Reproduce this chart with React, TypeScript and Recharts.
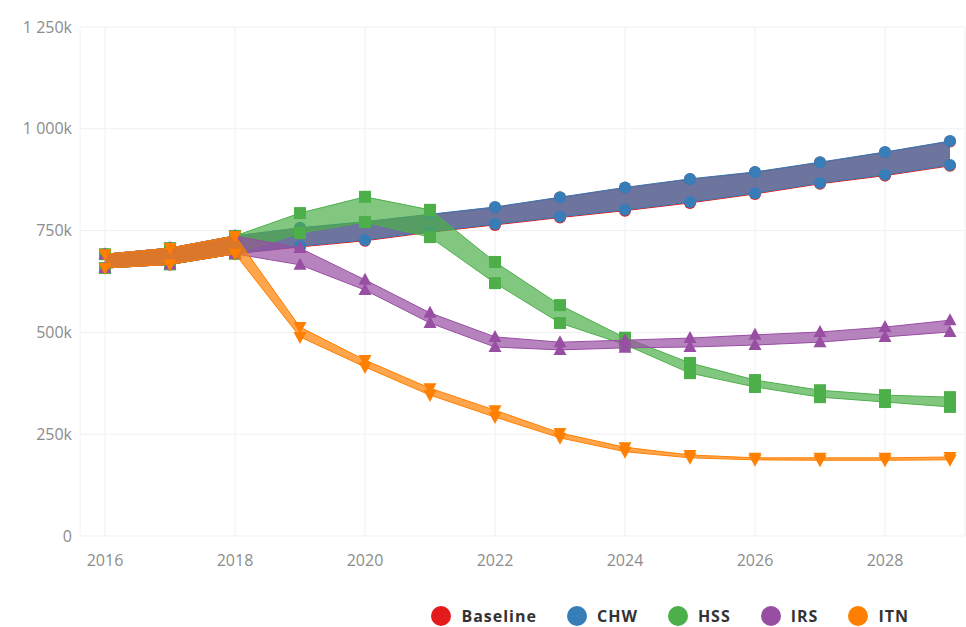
import React from 'react';
import { ComposedChart, Area, XAxis, YAxis, CartesianGrid, Legend } from 'recharts';

// values in thousands
const years = [2016, 2017, 2018, 2019, 2020, 2021, 2022, 2023, 2024, 2025, 2026, 2027, 2028, 2029];

const baselineHigh = [692, 707, 737, 756, 771, 789, 807, 831, 855, 876, 893, 917, 942, 969];
const baselineLow = [658, 667, 693, 710, 725, 746, 764, 782, 799, 818, 840, 865, 885, 909];

const chwHigh = [692, 707, 737, 757, 772, 790, 808, 832, 856, 877, 894, 918, 943, 970];
const chwLow = [658, 667, 693, 712, 727, 748, 766, 784, 801, 820, 842, 867, 887, 911];

const hssHigh = [692, 707, 737, 793, 833, 801, 673, 567, 487, 425, 383, 358, 346, 341];
const hssLow = [658, 667, 693, 744, 771, 734, 621, 523, 470, 400, 366, 341, 329, 317];

const irsHigh = [692, 707, 737, 707, 629, 548, 489, 476, 481, 486, 494, 501, 513, 530];
const irsLow = [658, 667, 693, 666, 604, 523, 464, 457, 462, 464, 469, 476, 489, 501];

const itnHigh = [692, 707, 737, 513, 432, 363, 309, 253, 218, 199, 192, 192, 192, 194];
const itnLow = [658, 667, 693, 489, 415, 346, 292, 241, 207, 192, 187, 186, 186, 187];

const xTicks = [2016, 2018, 2020, 2022, 2024, 2026, 2028];
const yTicks = [0, 250000, 500000, 750000, 1000000, 1250000];

type Marker = 'circle' | 'square' | 'triangle' | 'triangle-down';
type Series = { name: string; color: string; marker: Marker; hi: number[]; lo: number[] };

const series: Series[] = [
  { name: 'Baseline', color: '#e41a1c', marker: 'circle', hi: baselineHigh, lo: baselineLow },
  { name: 'CHW', color: '#377eb8', marker: 'circle', hi: chwHigh, lo: chwLow },
  { name: 'HSS', color: '#4daf4a', marker: 'square', hi: hssHigh, lo: hssLow },
  { name: 'IRS', color: '#984ea3', marker: 'triangle', hi: irsHigh, lo: irsLow },
  { name: 'ITN', color: '#ff7f00', marker: 'triangle-down', hi: itnHigh, lo: itnLow },
];

const data = years.map((year, i) => {
  const row: Record<string, any> = { year };
  series.forEach(s => {
    row[s.name] = [s.lo[i] * 1000, s.hi[i] * 1000];
    row[s.name + '_hi'] = s.hi[i] * 1000;
    row[s.name + '_lo'] = s.lo[i] * 1000;
  });
  return row;
});

const W = 966;
const H = 627;
const margin = { top: 27, right: 1, left: 0, bottom: 0 };
const LEGEND_H = 40;
const font = '"Open Sans", sans-serif';

const formatY = (v: number) => {
  if (v === 0) return '0';
  return String(v / 1000).replace(/\B(?=(\d{3})+(?!\d))/g, ' ') + 'k';
};

function drawMarker(marker: Marker, color: string) {
  return (props: any) => {
    const { cx, cy, index } = props;
    if (cx == null || cy == null) return <g key={index} />;
    if (marker === 'circle') return <circle key={index} cx={cx} cy={cy} r={6} fill={color} />;
    if (marker === 'square') return <rect key={index} x={cx - 6} y={cy - 6} width={12} height={12} fill={color} />;
    if (marker === 'triangle')
      return <path key={index} d={`M${cx},${cy - 7}L${cx + 6.5},${cy + 5}L${cx - 6.5},${cy + 5}Z`} fill={color} />;
    return <path key={index} d={`M${cx},${cy + 7}L${cx + 6.5},${cy - 5}L${cx - 6.5},${cy - 5}Z`} fill={color} />;
  };
}

const LegendContent = () => (
  <div
    style={{
      height: LEGEND_H,
      boxSizing: 'border-box',
      paddingTop: 17,
      paddingRight: 56,
      display: 'flex',
      justifyContent: 'flex-end',
      alignItems: 'center',
      fontFamily: font,
    }}
  >
    {series.map(s => (
      <div key={s.name} style={{ display: 'flex', alignItems: 'center', marginLeft: 30 }}>
        <span style={{ width: 20, height: 20, borderRadius: 10, background: s.color, display: 'inline-block' }} />
        <span style={{ marginLeft: 10, fontSize: 16, fontWeight: 700, color: '#333', letterSpacing: 1, lineHeight: '20px' }}>
          {s.name}
        </span>
      </div>
    ))}
  </div>
);

// axes shared by the base chart and the series layers; layers draw no ticks
function axes(visible: boolean) {
  const tick = visible ? { fontSize: 16, fill: '#8c8c8c', fontFamily: font } : false;
  return [
    <XAxis
      key="x"
      dataKey="year"
      type="number"
      domain={[2016, 2029]}
      ticks={xTicks}
      padding={{ left: 25, right: 15 }}
      axisLine={false}
      tickLine={false}
      tickMargin={13}
      height={51}
      tick={tick as any}
    />,
    <YAxis
      key="y"
      domain={[0, 1250000]}
      ticks={yTicks}
      tickFormatter={formatY}
      axisLine={false}
      tickLine={false}
      width={80}
      tick={tick as any}
    />,
  ];
}

function seriesItems(s: Series) {
  return [
    <Area
      key={s.name + '-band'}
      dataKey={s.name}
      type="linear"
      fill={s.color}
      fillOpacity={0.7}
      stroke={s.color}
      strokeWidth={1}
      dot={false}
      activeDot={false}
      isAnimationActive={false}
      legendType="none"
    />,
    <Area
      key={s.name + '-hi'}
      dataKey={s.name + '_hi'}
      type="linear"
      fill="none"
      stroke="none"
      dot={drawMarker(s.marker, s.color)}
      activeDot={false}
      isAnimationActive={false}
      legendType="none"
    />,
    <Area
      key={s.name + '-lo'}
      dataKey={s.name + '_lo'}
      type="linear"
      fill="none"
      stroke="none"
      dot={drawMarker(s.marker, s.color)}
      activeDot={false}
      isAnimationActive={false}
      legendType="none"
    />,
  ];
}

// one chart per series, stacked, so each band covers the markers of the series under it
function SeriesLayer({ s }: { s: Series }) {
  return (
    <div style={{ position: 'absolute', left: 0, top: 0, pointerEvents: 'none' }}>
      <ComposedChart width={W} height={H} data={data} margin={{ ...margin, bottom: margin.bottom + LEGEND_H }}>
        {axes(false)}
        {seriesItems(s)}
      </ComposedChart>
    </div>
  );
}

export default function App() {
  return (
    <div style={{ position: 'relative', width: W, height: H, background: '#fff' }}>
      <style>{'body{margin:0}'}</style>
      <ComposedChart width={W} height={H} data={data} margin={margin}>
        <CartesianGrid stroke="#f0f0f0" />
        {axes(true)}
        <Legend verticalAlign="bottom" align="right" content={LegendContent} />
        {seriesItems(series[0])}
      </ComposedChart>
      {series.slice(1).map(s => (
        <SeriesLayer key={s.name} s={s} />
      ))}
    </div>
  );
}
